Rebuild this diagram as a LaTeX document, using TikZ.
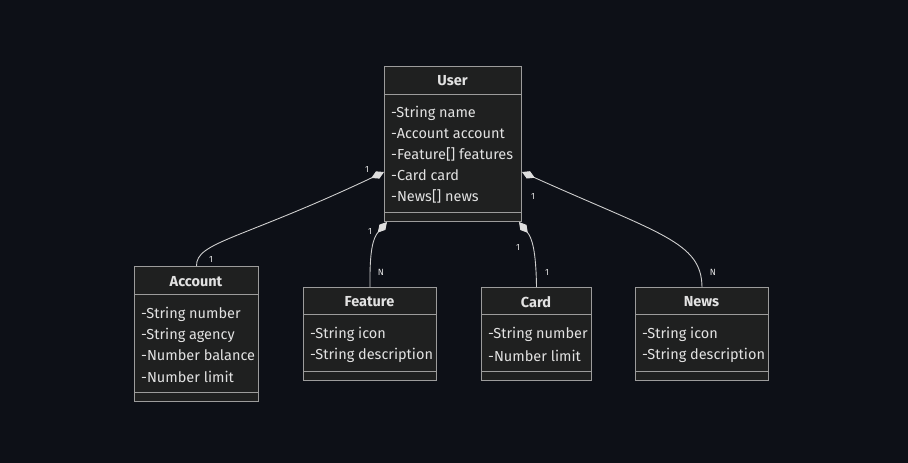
\documentclass[tikz,border=0pt]{standalone}
\usepackage{fontspec}
\setmainfont{Fira Sans}
\usetikzlibrary{arrows.meta}
\definecolor{bg}{HTML}{0D1017}
\definecolor{boxfill}{HTML}{1F2020}
\definecolor{boxline}{HTML}{9C9C9C}
\definecolor{txt}{HTML}{E2E2E2}
\definecolor{edge}{HTML}{CDCDCD}
\definecolor{tip}{HTML}{DEDEDE}
\begin{document}
\begin{tikzpicture}[x=1pt,y=-1pt,
  classbox/.style={draw=boxline, fill=boxfill, line width=1pt, inner sep=0pt, anchor=north west},
  sepline/.style={draw=boxline, line width=1pt},
  ctitle/.style={text=txt, font=\fontsize{14.5}{16}\selectfont\bfseries, anchor=center, inner sep=0pt},
  member/.style={text=txt, font=\fontsize{14.5}{16}\selectfont, anchor=west, inner sep=0pt},
  mult/.style={text=txt, font=\fontsize{9}{10}\selectfont, inner sep=0pt},
  rel/.style={draw=edge, line width=0.9pt, {Diamond[length=14pt,width=8pt,fill=tip,color=tip]}-}
]
% background
\fill[bg] (0,0) rectangle (908,463);

% ---- User ----
\node[classbox, minimum width=137pt, minimum height=155pt] (user) at (384,66) {};
\draw[sepline] ([yshift=-28pt]user.north west) -- ([yshift=-28pt]user.north east);
\draw[sepline] ([yshift=10pt]user.south west) -- ([yshift=10pt]user.south east);
\node[ctitle] (usert) at (452.5,81) {User};
\node[member] (u1) at (391,113.5) {-String name};
\node[member] (u2) at (391,134) {-Account account};
\node[member] (u3) at (391,154.5) {-Feature[] features};
\node[member] (u4) at (391,175.5) {-Card card};
\node[member] (u5) at (391,196) {-News[] news};

% ---- Account ----
\node[classbox, minimum width=124pt, minimum height=135pt] (account) at (134,266) {};
\draw[sepline] ([yshift=-28pt]account.north west) -- ([yshift=-28pt]account.north east);
\draw[sepline] ([yshift=10pt]account.south west) -- ([yshift=10pt]account.south east);
\node[ctitle] (accountt) at (196,282) {Account};
\node[member] (a1) at (141,314.5) {-String number};
\node[member] (a2) at (141,335) {-String agency};
\node[member] (a3) at (141,355.5) {-Number balance};
\node[member] (a4) at (141,376.5) {-Number limit};

% ---- Feature ----
\node[classbox, minimum width=133pt, minimum height=93pt] (feature) at (303,287) {};
\draw[sepline] ([yshift=-27pt]feature.north west) -- ([yshift=-27pt]feature.north east);
\draw[sepline] ([yshift=10pt]feature.south west) -- ([yshift=10pt]feature.south east);
\node[ctitle] (featuret) at (369.5,302) {Feature};
\node[member] (f1) at (310,334.5) {-String icon};
\node[member] (f2) at (310,355.5) {-String description};

% ---- Card ----
\node[classbox, minimum width=110pt, minimum height=93pt] (card) at (481,287) {};
\draw[sepline] ([yshift=-27pt]card.north west) -- ([yshift=-27pt]card.north east);
\draw[sepline] ([yshift=10pt]card.south west) -- ([yshift=10pt]card.south east);
\node[ctitle] (cardt) at (536,302) {Card};
\node[member] (c1) at (488,334.5) {-String number};
\node[member] (c2) at (488,355.5) {-Number limit};

% ---- News ----
\node[classbox, minimum width=133pt, minimum height=93pt] (news) at (635,287) {};
\draw[sepline] ([yshift=-27pt]news.north west) -- ([yshift=-27pt]news.north east);
\draw[sepline] ([yshift=10pt]news.south west) -- ([yshift=10pt]news.south east);
\node[ctitle] (newst) at (701.5,302) {News};
\node[member] (n1) at (642,334.5) {-String icon};
\node[member] (n2) at (642,355.5) {-String description};

% ---- compositions ----
\draw[rel] ([yshift=-106pt]user.north west) .. controls (240,240) and (196,242) .. (account.north);
\draw[rel] ([xshift=3pt]user.south west) .. controls (373,238) and (369.5,250) .. (feature.north);
\draw[rel] ([xshift=-3pt]user.south east) .. controls (532,238) and (536,250) .. (card.north);
\draw[rel] ([yshift=-106pt]user.north east) .. controls (660,234) and (701.5,242) .. (news.north);

% ---- multiplicities ----
\node[mult] (m1) at (367,169) {1};
\node[mult] (m2) at (211,259) {1};
\node[mult] (m3) at (370,231) {1};
\node[mult] (m4) at (381,272) {N};
\node[mult] (m5) at (518,247) {1};
\node[mult] (m6) at (547,272) {1};
\node[mult] (m7) at (533,196) {1};
\node[mult] (m8) at (713,272) {N};
\end{tikzpicture}
\end{document}
